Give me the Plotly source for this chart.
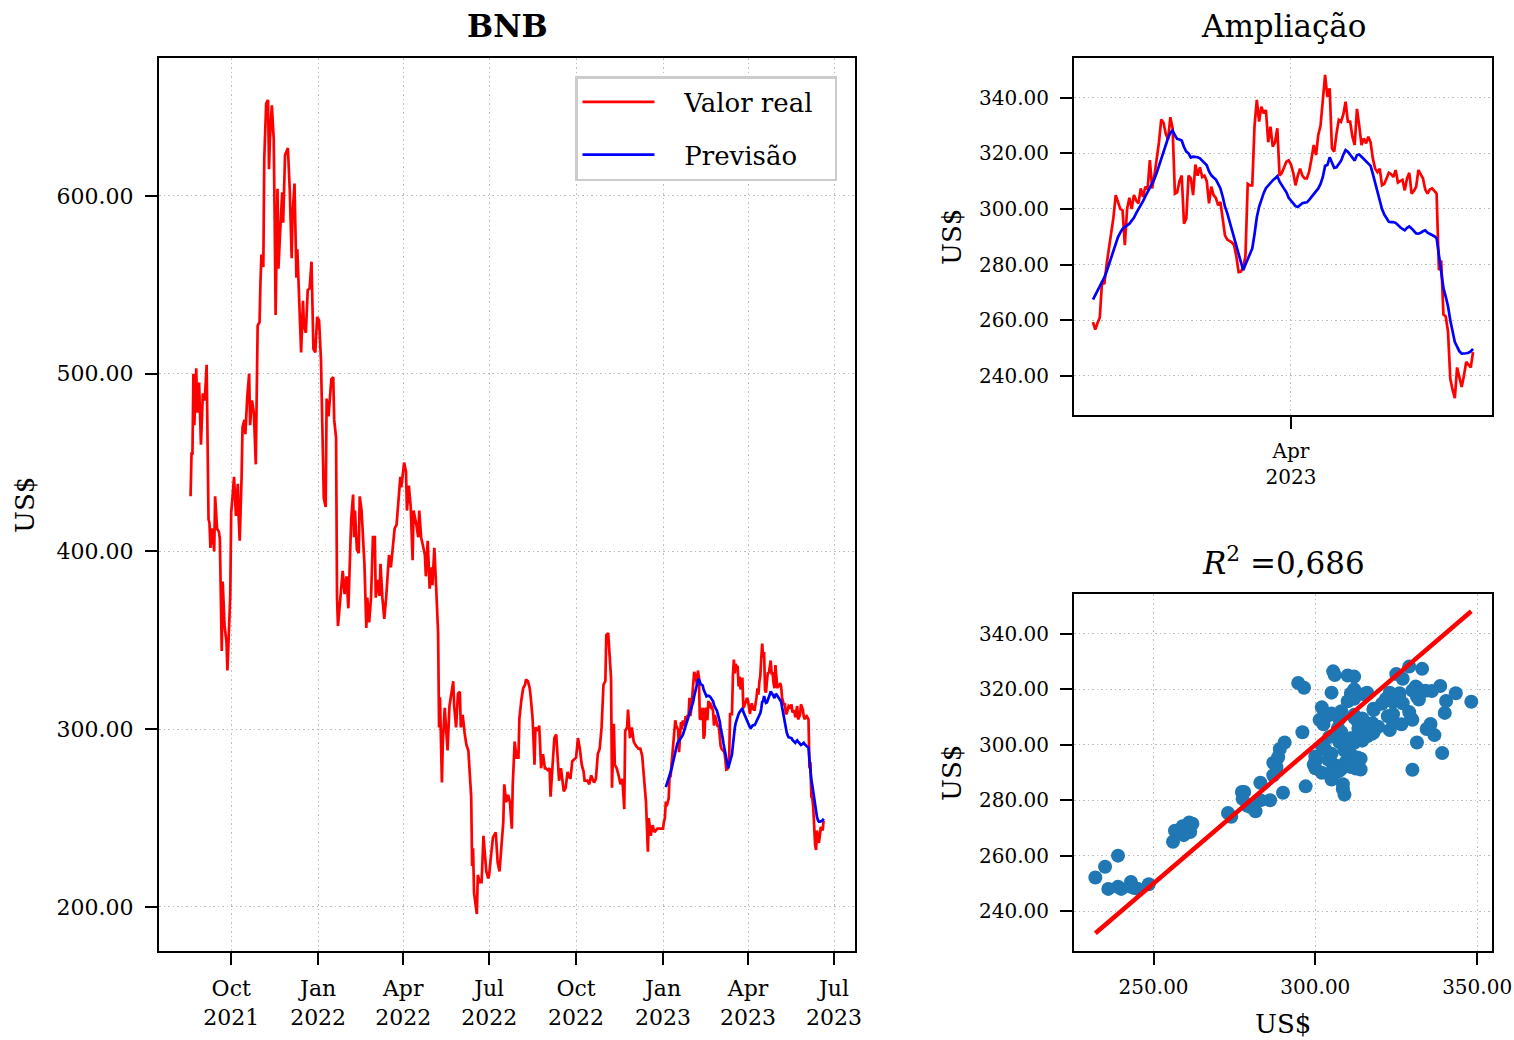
import pandas as pd
import plotly.graph_objects as go

FONT = "DejaVu Serif"

# ---------------- data ----------------
hist_dates = [
    "2021-08-19", "2021-08-20", "2021-08-21", "2021-08-22", "2021-08-23", "2021-08-25", "2021-08-26",
    "2021-08-28", "2021-08-30", "2021-09-01", "2021-09-03", "2021-09-05", "2021-09-07", "2021-09-08",
    "2021-09-09", "2021-09-11", "2021-09-13", "2021-09-14", "2021-09-16", "2021-09-18", "2021-09-19",
    "2021-09-21", "2021-09-22", "2021-09-24", "2021-09-26", "2021-09-27", "2021-09-30", "2021-10-01",
    "2021-10-02", "2021-10-04", "2021-10-06", "2021-10-08", "2021-10-09", "2021-10-10", "2021-10-12",
    "2021-10-13", "2021-10-15", "2021-10-16", "2021-10-18", "2021-10-20", "2021-10-21", "2021-10-23",
    "2021-10-25", "2021-10-27", "2021-10-29", "2021-10-31", "2021-11-01", "2021-11-02", "2021-11-04",
    "2021-11-05", "2021-11-07", "2021-11-09", "2021-11-10", "2021-11-11", "2021-11-13", "2021-11-15",
    "2021-11-16", "2021-11-17", "2021-11-19", "2021-11-20", "2021-11-22", "2021-11-24", "2021-11-25",
    "2021-11-27", "2021-11-30", "2021-12-02", "2021-12-04", "2021-12-05", "2021-12-07", "2021-12-09",
    "2021-12-10", "2021-12-12", "2021-12-14", "2021-12-16", "2021-12-17", "2021-12-19", "2021-12-21",
    "2021-12-23", "2021-12-25", "2021-12-27", "2021-12-29", "2021-12-31", "2022-01-02",
    "2022-01-04", "2022-01-05", "2022-01-07", "2022-01-09", "2022-01-10", "2022-01-12", "2022-01-15",
    "2022-01-17", "2022-01-18", "2022-01-20", "2022-01-21", "2022-01-22", "2022-01-24", "2022-01-26",
    "2022-01-27", "2022-01-29", "2022-01-31", "2022-02-02", "2022-02-04", "2022-02-05", "2022-02-07",
    "2022-02-08", "2022-02-09", "2022-02-11", "2022-02-13", "2022-02-14", "2022-02-16", "2022-02-18",
    "2022-02-19", "2022-02-21", "2022-02-22", "2022-02-24", "2022-02-26", "2022-02-28", "2022-03-02",
    "2022-03-03", "2022-03-05", "2022-03-07", "2022-03-08", "2022-03-10", "2022-03-12", "2022-03-14",
    "2022-03-16", "2022-03-17", "2022-03-19", "2022-03-21", "2022-03-23", "2022-03-25", "2022-03-27",
    "2022-03-29", "2022-03-30", "2022-04-01", "2022-04-02", "2022-04-04", "2022-04-05", "2022-04-07",
    "2022-04-09", "2022-04-11", "2022-04-12", "2022-04-15", "2022-04-17", "2022-04-18", "2022-04-20",
    "2022-04-22", "2022-04-24", "2022-04-25", "2022-04-27", "2022-04-29", "2022-05-01", "2022-05-02",
    "2022-05-04", "2022-05-06", "2022-05-08", "2022-05-09", "2022-05-10", "2022-05-12", "2022-05-13",
    "2022-05-15", "2022-05-17", "2022-05-18", "2022-05-20", "2022-05-22", "2022-05-24", "2022-05-25",
    "2022-05-27", "2022-05-29", "2022-05-31", "2022-06-01", "2022-06-03", "2022-06-05", "2022-06-07",
    "2022-06-09", "2022-06-12", "2022-06-13",
    "2022-06-14", "2022-06-15", "2022-06-18", "2022-06-19", "2022-06-21", "2022-06-23", "2022-06-25",
    "2022-06-26", "2022-06-28", "2022-06-30", "2022-07-01", "2022-07-03", "2022-07-05", "2022-07-08",
    "2022-07-10", "2022-07-12", "2022-07-14", "2022-07-16", "2022-07-17", "2022-07-19", "2022-07-21",
    "2022-07-23", "2022-07-25", "2022-07-26", "2022-07-28", "2022-07-30", "2022-08-01", "2022-08-02",
    "2022-08-04", "2022-08-06", "2022-08-08", "2022-08-09", "2022-08-11", "2022-08-13", "2022-08-14",
    "2022-08-16", "2022-08-18", "2022-08-19", "2022-08-21", "2022-08-23", "2022-08-25", "2022-08-27",
    "2022-08-29", "2022-08-30", "2022-09-01", "2022-09-03", "2022-09-04", "2022-09-06", "2022-09-08",
    "2022-09-10", "2022-09-11", "2022-09-13", "2022-09-15", "2022-09-16", "2022-09-18", "2022-09-20",
    "2022-09-22", "2022-09-23", "2022-09-25", "2022-09-27", "2022-10-01", "2022-10-03", "2022-10-05",
    "2022-10-07", "2022-10-09", "2022-10-10", "2022-10-13", "2022-10-15", "2022-10-17", "2022-10-20",
    "2022-10-22", "2022-10-24", "2022-10-26", "2022-10-28", "2022-10-30", "2022-11-01", "2022-11-02",
    "2022-11-04", "2022-11-06", "2022-11-07", "2022-11-08", "2022-11-10", "2022-11-11", "2022-11-13",
    "2022-11-15", "2022-11-17", "2022-11-19", "2022-11-21", "2022-11-22", "2022-11-24", "2022-11-25",
    "2022-11-27", "2022-11-29", "2022-12-01", "2022-12-03", "2022-12-06", "2022-12-08", "2022-12-10",
    "2022-12-12", "2022-12-14", "2022-12-16", "2022-12-17", "2022-12-19", "2022-12-21", "2022-12-23",
    "2022-12-26", "2022-12-29", "2023-01-01", "2023-01-02", "2023-01-03",
]
hist_real = [
    431, 455, 455, 500, 471, 503, 478,
    495, 460, 489, 485, 505, 418, 416,
    402, 413, 400, 431, 413, 411, 407,
    344, 383, 358, 349, 333, 375, 422,
    428, 442, 420, 438, 418, 406, 442,
    470, 474, 466, 487, 500, 471, 485,
    478, 449, 527, 529, 552, 567, 560,
    621, 652, 654, 615, 632, 651, 632,
    587, 533, 604, 559, 582, 602, 585,
    623, 627, 603, 565, 590, 607, 554,
    570, 534, 512, 541, 527, 523, 547,
    548, 563, 514, 512, 532, 530,
    508, 474, 430, 425, 486, 476, 497,
    498, 474, 464, 374, 358, 371, 379,
    389, 376, 386, 368, 401, 418, 432,
    408, 423, 401, 399, 431, 423, 401,
    393, 357, 374, 360, 374, 408, 408,
    374, 384, 375, 393, 374, 362, 374,
    389, 398, 391, 403, 413, 415, 430,
    442, 436, 447, 450, 445, 423, 437,
    425, 395, 423, 415, 408, 423, 408,
    403, 398, 386, 406, 379, 391, 381,
    402, 379, 354, 301, 318, 270, 293,
    312, 298, 288, 313, 319, 327, 313,
    301, 320, 321, 301, 308, 298, 291,
    288, 262, 223,
    233, 208, 196, 218, 214, 214, 240,
    233, 220, 216, 218, 229, 239, 242,
    225, 220, 237, 248, 269, 259, 263,
    259, 244, 269, 293, 284, 284, 306,
    316, 323, 325, 328, 327, 323, 318,
    306, 280, 301, 299, 302, 278, 286,
    278, 278, 277, 278, 262, 280, 295,
    297, 287, 271, 278, 274, 265, 267,
    276, 274, 272, 282, 284, 295, 289,
    280, 276, 271, 271, 269, 274, 270,
    272, 286, 289, 301, 325, 327, 353,
    354, 338, 329, 267, 303, 280, 278,
    274, 269, 272, 255, 299, 301, 311,
    295, 301, 293, 291, 289, 289, 285,
    272, 259, 231, 250, 240, 246, 242,
    244, 244, 244, 248, 250,
]

test_start = "2023-01-04"
real_2023 = [
    259.3, 256.6, 259, 261, 274, 273, 280, 286, 290, 297,
    305, 302, 300, 299.5, 287, 300, 304, 300, 305, 303,
    302, 307.4, 304.3, 308, 307, 317.6, 307.4, 312, 318, 324,
    332.2, 331, 327, 325, 333, 329, 305.5, 306, 310, 312,
    294.7, 296.5, 312, 311, 305, 316, 312, 315, 311.5, 312,
    310, 302, 308, 305, 304, 301.3, 302.5, 296, 290.5, 289,
    288.5, 288, 287, 283, 277.3, 277.5, 279, 283, 309, 308.5,
    308.5, 330, 339.2, 331.4, 336.8, 334.4, 335.6, 324, 329.6, 322.4,
    324, 329, 312, 313, 315, 317, 317.5, 316, 313, 308.5,
    312, 314.5, 312, 311, 311, 313.5, 318, 323, 319.4, 326.6,
    330, 340, 348.2, 340.4, 343.4, 321.8, 320.6, 327, 332, 331.4,
    334, 338.6, 331.4, 331.4, 326, 323, 336, 330, 323, 325.4,
    323.6, 326, 324, 318, 314.5, 313.3, 314.5, 308.5, 309, 311,
    313, 312.5, 311.5, 314, 309.5, 310, 310.5, 306.7, 311, 313,
    305.5, 306.5, 308, 314, 312.5, 311, 307, 305.5, 307, 307.4,
    306.5, 305.5, 278, 281.5, 262, 261.3, 256, 239, 235, 232,
    243, 239, 236, 240, 245, 244, 243, 248.5,
]
pred_2023 = [
    267.4, 269, 270.6, 272, 274, 275.4, 277.5, 280, 282.7, 285,
    287.5, 289.9, 291.5, 292.8, 293.5, 294, 294.7, 295.8, 296.8, 298.5,
    299.8, 301, 302.8, 304.5, 306, 307.8, 309.3, 310.8, 313, 315.5,
    318.5, 321, 323.8, 325.5, 327.4, 328.2, 326.5, 325.2, 325, 324.6,
    322.3, 320.6, 320, 318.5, 318.8, 318.8, 318.6, 318.2, 317.4, 316.6,
    315.7, 313.5, 312.1, 311.3, 310.6, 309, 307.4, 304.5, 300.8, 298.5,
    295.5, 292, 289, 286.3, 283, 280.5, 278, 280, 282, 284,
    285.8, 291, 297, 300.8, 303.5, 305.7, 307.5, 308.5, 309.5, 310.3,
    311, 311.8, 309.8, 308.5, 307, 306, 304, 303.1, 302, 301,
    300.7, 301.5, 302.1, 302.3, 302.4, 303.3, 304.4, 305.3, 306.5, 307.4,
    309, 311.5, 315.5, 315.8, 318.6, 316.5, 314.8, 315, 316.3, 317.3,
    319.5, 321.2, 320.6, 319.5, 318.6, 317.4, 319.4, 319.6, 318.8, 318,
    317.3, 316.5, 315.5, 312.5, 309.5, 305.8, 302.5, 300, 298, 296.5,
    295.4, 295.3, 295.3, 295, 294, 293.4, 292.8, 292.3, 293.2, 293.7,
    293, 292.2, 291.2, 291.1, 291.4, 292, 292.3, 291.5, 291.1, 290.6,
    290.2, 289.5, 283, 276, 271.5, 268.5, 265, 260, 256, 252.1,
    250.5, 248.8, 248, 248, 248.1, 248.3, 248.8, 249.7,
]

main_tick_dates = ["2021-10-01", "2022-01-01", "2022-04-01", "2022-07-01",
                   "2022-10-01", "2023-01-01", "2023-04-01", "2023-07-01"]
main_tick_text = ["Oct<br>2021", "Jan<br>2022", "Apr<br>2022", "Jul<br>2022",
                  "Oct<br>2022", "Jan<br>2023", "Apr<br>2023", "Jul<br>2023"]
zoom_tick_dates = ["2023-04-01"]
zoom_tick_text = ["Apr<br>2023"]
main_y_ticks = [200, 300, 400, 500, 600]
zoom_y_ticks = [240, 260, 280, 300, 320, 340]
scatter_x_ticks = [250, 300, 350]
r2_text = "0,686"
legend_names = ["Valor real", "Previsão"]

# ---------------- build series ----------------
dates_2023 = pd.date_range(test_start, periods=len(real_2023), freq="D")
all_dates = list(pd.to_datetime(hist_dates)) + list(dates_2023)
all_real = hist_real + real_2023
line_ref = sorted(real_2023)

RED = "#ff0000"
BLUE = "#0000ff"
LW = 2.7
NB = "\u00a0"


def legend_label(name):
    # non-breaking spaces give the legend the same inner spacing as the reference
    return NB * 3 + name + NB * 2


fig = go.Figure()
# main panel
fig.add_trace(go.Scatter(x=all_dates, y=all_real, mode="lines", name=legend_label(legend_names[0]),
                         line=dict(color=RED, width=LW), legendgroup="a",
                         xaxis="x", yaxis="y"))
fig.add_trace(go.Scatter(x=dates_2023, y=pred_2023, mode="lines", name=legend_label(legend_names[1]),
                         line=dict(color=BLUE, width=LW), legendgroup="b",
                         xaxis="x", yaxis="y"))
# zoom panel
fig.add_trace(go.Scatter(x=dates_2023, y=real_2023, mode="lines", showlegend=False,
                         line=dict(color=RED, width=LW), xaxis="x2", yaxis="y2"))
fig.add_trace(go.Scatter(x=dates_2023, y=pred_2023, mode="lines", showlegend=False,
                         line=dict(color=BLUE, width=LW), xaxis="x2", yaxis="y2"))
# scatter panel
fig.add_trace(go.Scatter(x=real_2023, y=pred_2023, mode="markers", showlegend=False,
                         marker=dict(color="#1f77b4", size=14, line=dict(width=0)),
                         xaxis="x3", yaxis="y3"))
fig.add_trace(go.Scatter(x=line_ref, y=line_ref, mode="lines", showlegend=False,
                         line=dict(color=RED, width=4.5), xaxis="x3", yaxis="y3"))


def axis_style(size, standoff=7):
    return dict(
        showline=True, linecolor="black", linewidth=2, mirror=True,
        ticks="outside", ticklen=12, tickwidth=2, tickcolor="black",
        ticklabelstandoff=standoff, ticklabeloverflow="allow",
        showgrid=True, gridcolor="#bdbdbd", griddash="1.5px,3px", gridwidth=1,
        zeroline=False, automargin=False,
        tickfont=dict(family=FONT, size=size, color="black"),
    )


X_MAIN = [159 / 1514, 855 / 1514]
X_RIGHT = [1074 / 1514, 1492 / 1514]
Y_MAIN = [1 - 951 / 1040, 1 - 58 / 1040]
Y_TOP = [1 - 415 / 1040, 1 - 58 / 1040]
Y_BOT = [1 - 951 / 1040, 1 - 594 / 1040]

fig.update_layout(
    width=1514, height=1040,
    margin=dict(l=0, r=0, t=0, b=0),
    paper_bgcolor="white", plot_bgcolor="white",
    font=dict(family=FONT, color="black"),
    showlegend=True,
    legend=dict(x=837 / 1514, xanchor="right", y=1 - 76 / 1040, yanchor="top",
                bgcolor="white", bordercolor="#cccccc", borderwidth=2.5,
                font=dict(family=FONT, size=26, color="black"),
                itemwidth=72, tracegroupgap=16, traceorder="grouped"),
    xaxis=dict(domain=X_MAIN, anchor="y", type="date",
               range=["2021-07-16 14:00", "2023-07-23 05:00"],
               tickvals=main_tick_dates, ticktext=main_tick_text, **axis_style(22, 5)),
    yaxis=dict(domain=Y_MAIN, anchor="x", range=[175.2, 677.6],
               tickvals=main_y_ticks, tickformat=".2f", **axis_style(22)),
    xaxis2=dict(domain=X_RIGHT, anchor="y2", type="date",
                range=["2022-12-26 16:00", "2023-06-28 08:00"],
                tickvals=zoom_tick_dates, ticktext=zoom_tick_text, **axis_style(20, 5)),
    yaxis2=dict(domain=Y_TOP, anchor="x2", range=[225.9, 354.3],
                tickvals=zoom_y_ticks, tickformat=".2f", **axis_style(20)),
    xaxis3=dict(domain=X_RIGHT, anchor="y3", range=[225.4, 354.6],
                tickvals=scatter_x_ticks, tickformat=".2f", **axis_style(20, 5)),
    yaxis3=dict(domain=Y_BOT, anchor="x3", range=[225.6, 354.4],
                tickvals=zoom_y_ticks, tickformat=".2f", **axis_style(20)),
)

ann = []
title_font = dict(family=FONT, size=31, color="black")
label_font = dict(family=FONT, size=26, color="black")
ann.append(dict(text="<b>BNB</b>", x=507 / 1514, y=1 - 26 / 1040, font=title_font))
ann.append(dict(text="Ampliação", x=1283 / 1514, y=1 - 26 / 1040, font=title_font))
ann.append(dict(text="<i>R</i><sup>2</sup> =" + r2_text, x=1283 / 1514, y=1 - 561 / 1040,
                font=title_font))
ann.append(dict(text="US$", x=25 / 1514, y=1 - 505 / 1040, textangle=-90, font=label_font))
ann.append(dict(text="US$", x=952 / 1514, y=1 - 237 / 1040, textangle=-90, font=label_font))
ann.append(dict(text="US$", x=952 / 1514, y=1 - 773 / 1040, textangle=-90, font=label_font))
ann.append(dict(text="US$", x=1283 / 1514, y=1 - 1024 / 1040, font=label_font))
for a in ann:
    a.update(xref="paper", yref="paper", xanchor="center", yanchor="middle", showarrow=False)
fig.update_layout(annotations=ann)

fig.write_html("out.html")
